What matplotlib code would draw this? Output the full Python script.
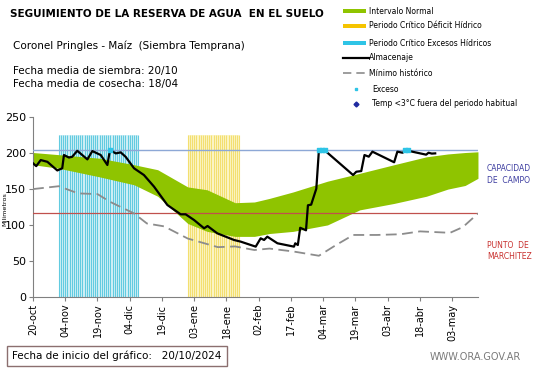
import matplotlib
matplotlib.use("Agg")
import matplotlib.pyplot as plt
import numpy as np
from matplotlib.lines import Line2D
from matplotlib.patches import Rectangle

# days counted from 20-oct-2024
tick_days = [0, 15, 30, 45, 60, 75, 90, 105, 120, 135, 150, 165, 180, 195]
tick_labels = ["20-oct", "04-nov", "19-nov", "04-dic", "19-dic", "03-ene", "18-ene",
               "02-feb", "17-feb", "04-mar", "19-mar", "03-abr", "18-abr", "03-may"]

# intervalo normal (upper / lower bounds)
band_days = [0, 12, 31, 47, 58, 72, 81, 94, 103, 110, 121, 137, 152, 168, 183, 193, 201, 207]
band_upper = [201, 198, 193, 184, 177, 153, 149, 131, 132, 137, 146, 161, 172, 184, 195, 199, 201, 202]
band_lower = [184, 179, 167, 156, 140, 102, 91, 84, 84, 88, 91, 100, 121, 130, 140, 150, 155, 165]

# minimo historico
min_days = [0, 12, 21, 30, 36, 47, 53, 61, 72, 86, 94, 103, 110, 121, 133, 141, 149, 160, 171, 180, 194, 200, 207]
min_vals = [150, 154, 144, 143, 132, 116, 102, 98, 81, 69, 70, 65, 67, 63, 57, 72, 86, 86, 87, 91, 89, 97, 116]

# almacenaje
alm_days = [0, 1.5, 3.6, 6.7, 11.3, 13.6, 14.4, 16.7, 18.2, 20.6, 25.3, 27.6, 31.5, 34.6, 35.8,
            38.5, 40.8, 43.1, 47, 51.6, 56.3, 62.5, 68.7, 71, 74.9, 79.6, 81.2, 85.7, 93.5,
            96.6, 103.6, 105.9, 107.5, 109, 113.7, 121.4, 122, 123.2, 124.3, 127, 127.9,
            129.4, 131.8, 133, 135.7, 148.9, 150.4, 152.7, 154.2, 156.2, 157.9, 168, 169.5,
            171.9, 173.6, 176.7, 182.9, 184, 185.5, 187.1]
alm_vals = [186, 182, 190.5, 188, 176, 179, 197.5, 194, 195, 203.4, 191.4, 203, 197.5, 183.6,
            204.5, 199.8, 201.2, 195, 179, 169.6, 153.4, 127.8, 114.8, 114.8, 106.9, 95.3, 98.5,
            88.3, 79, 76.7, 69.7, 81.3, 79, 83.6, 74.4, 69.7, 74.4, 72, 96, 92.5, 127.4, 128.3,
            150.6, 204, 204, 169.6, 174.2, 175.1, 197.5, 195.2, 202.2, 187.4, 202.2, 200.7,
            204, 202, 198, 200.7, 199.5, 199.8]

# exceso points
exc_days = [35.8, 133, 134.5, 135.7, 173, 174.5]
exc_vals = [204, 204, 204, 204, 204, 204]

capacidad_campo = 204
punto_marchitez = 116
excess_period = (12, 49)
deficit_period = (72, 96)

fig = plt.figure(figsize=(5.41, 3.68), dpi=100)
ax = fig.add_axes([0.061, 0.194, 0.8225, 0.487])

# critical periods drawn as striped bands
ax.axvspan(*excess_period, ymax=225 / 250, color="#d4f1f7", lw=0, zorder=1)
ax.vlines(np.arange(excess_period[0], excess_period[1] + 0.5, 1), 0, 225,
          color="#62cbe0", lw=0.8, zorder=1)
ax.axvspan(*deficit_period, ymax=225 / 250, color="#fcf6c8", lw=0, zorder=1)
ax.vlines(np.arange(deficit_period[0], deficit_period[1] + 0.5, 1), 0, 225,
          color="#f3df70", lw=0.8, zorder=1)

ax.fill_between(band_days, band_lower, band_upper, color="#8fc400", lw=0, zorder=2)
ax.axhline(capacidad_campo, color="#8da8d6", lw=1, zorder=3)
ax.axhline(punto_marchitez, color="#c0504d", lw=0.9, zorder=3)
ax.plot(min_days, min_vals, color="#8c8c8c", lw=1.3, dashes=(6, 3), zorder=4)
ax.plot(alm_days, alm_vals, color="black", lw=1.6, zorder=5)
ax.scatter(exc_days, exc_vals, s=6, marker="s", color="#2ec4e6", zorder=6)

ax.set_xlim(0, 207)
ax.set_ylim(0, 250)
ax.set_xticks(tick_days)
ax.set_xticklabels(tick_labels, rotation=90, fontsize=7)
ax.set_yticks(range(0, 251, 50))
ax.tick_params(axis="y", labelsize=8, length=3, color="#808080", pad=2)
ax.tick_params(axis="x", length=3, color="#808080", pad=2)
for side in ["top", "right"]:
    ax.spines[side].set_visible(False)
for side in ["left", "bottom"]:
    ax.spines[side].set_color("#808080")
ax.set_ylabel("Milimetros", fontsize=4.6)
ax.yaxis.set_label_coords(-0.058, 0.49)

# texts
fig.text(0.018, 0.962, "SEGUIMIENTO DE LA RESERVA DE AGUA  EN EL SUELO",
         fontsize=7.5, fontweight="bold", va="center")
fig.text(0.024, 0.877, "Coronel Pringles - Maíz  (Siembra Temprana)", fontsize=7.5, va="center")
fig.text(0.024, 0.808, "Fecha media de siembra: 20/10", fontsize=7.5, va="center")
fig.text(0.024, 0.771, "Fecha media de cosecha: 18/04", fontsize=7.5, va="center")

fig.text(0.9, 0.525, "CAPACIDAD\nDE  CAMPO", fontsize=5.5, color="#3c3ca0",
         va="center", linespacing=1.4)
fig.text(0.9, 0.318, "PUNTO  DE\nMARCHITEZ", fontsize=5.5, color="#c8302e",
         va="center", linespacing=1.4)

# legend
H = 368.0
W = 541.0
leg_rows = [
    ("patch", "#8fc400", "Intervalo Normal", 11),
    ("patch", "#f5c400", "Periodo Crítico Déficit Hídrico", 26),
    ("patch", "#2ec4e6", "Periodo Crítico Excesos Hídricos", 43),
    ("line", "black", "Almacenaje", 58),
    ("dash", "#8c8c8c", "Mínimo histórico", 73),
    ("dot", "#2ec4e6", "Exceso", 89),
    ("diamond", "#1f2aa0", "Temp <3°C fuera del periodo habitual", 104),
]
for kind, col, label, y in leg_rows:
    yf = 1 - y / H
    if kind == "patch":
        fig.add_artist(Rectangle((343 / W, yf - 2 / H), 23 / W, 4 / H,
                                 color=col, transform=fig.transFigure, lw=0))
        tx = 369
    elif kind == "line":
        fig.add_artist(Line2D([343 / W, 369 / W], [yf, yf], color=col, lw=1.6,
                              transform=fig.transFigure))
        tx = 369
    elif kind == "dash":
        fig.add_artist(Line2D([343 / W, 369 / W], [yf, yf], color=col, lw=1.2,
                              dashes=(5, 3), transform=fig.transFigure))
        tx = 369
    elif kind == "dot":
        fig.add_artist(Line2D([356 / W], [yf], marker="s", markersize=2, color=col,
                              lw=0, transform=fig.transFigure))
        tx = 372
    else:
        fig.add_artist(Line2D([356 / W], [yf], marker="D", markersize=2.5, color=col,
                              lw=0, transform=fig.transFigure))
        tx = 372
    fig.text(tx / W, yf, label, fontsize=5.5, va="center")

# bottom box
fig.text(12 / W, 1 - 356 / H, "Fecha de inicio del gráfico:   20/10/2024", fontsize=7.5,
         va="center", bbox=dict(boxstyle="square,pad=0.5", fc="white", ec="#8b6f6f", lw=1))
fig.text(430 / W, 1 - 357 / H, "WWW.ORA.GOV.AR", fontsize=7, color="#7a7a7a", va="center")

fig.savefig("out.png", dpi=100)
